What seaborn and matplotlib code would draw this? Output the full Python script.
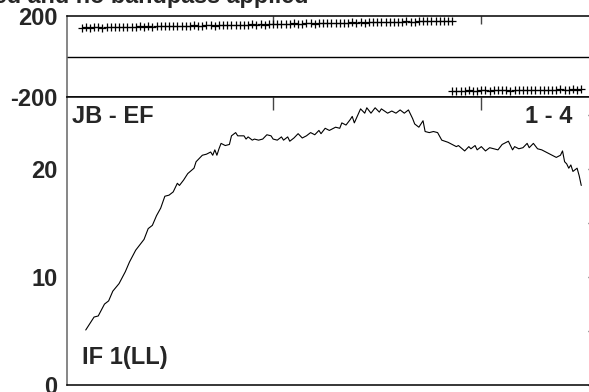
import pandas as pd
import seaborn as sns
import matplotlib.pyplot as plt

# amplitude spectrum (channel, amplitude)
amp_chan = [10, 12, 14, 16, 19, 21, 23, 26, 29, 31, 34, 36, 38, 40, 42, 44, 46, 48, 50, 52,
            54, 55, 57, 59, 62, 63, 66, 68, 70, 71, 72, 73, 74, 75, 77, 79, 80, 82, 83, 86,
            87, 88, 90, 91, 93, 95, 97, 99, 100, 102, 104, 105, 107, 108, 110, 112, 114, 116, 118, 120,
            122, 123, 125, 127, 130, 132, 133, 135, 137, 138, 139, 142, 144, 145, 147, 149, 151, 152, 155, 157,
            159, 161, 163, 165, 167, 168, 170, 172, 173, 175, 177, 179, 181, 184, 186, 188, 189, 192, 194, 195,
            197, 198, 200, 202, 204, 206, 208, 210, 213, 215, 216, 218, 220, 222, 223, 225, 227, 229, 232, 234,
            236, 238, 239, 240, 241, 242, 243, 244, 246, 247, 248]
amp_vals = [5.1, 5.7, 6.3, 6.4, 7.5, 7.8, 8.7, 9.4, 10.5, 11.4, 12.5, 13.0, 13.5, 14.5, 14.8, 15.7, 16.4, 17.5, 17.6, 17.9,
            18.7, 18.5, 19.0, 19.6, 20.1, 20.7, 21.3, 21.4, 21.6, 21.3, 21.8, 21.3, 21.9, 22.4, 22.2, 22.3, 23.1, 23.4, 23.1, 23.1,
            22.8, 23.0, 22.7, 22.8, 22.7, 22.8, 23.2, 23.1, 22.8, 22.7, 23.0, 22.7, 23.0, 22.6, 22.9, 23.3, 22.9, 23.1, 23.4, 23.2,
            23.6, 23.3, 23.8, 23.6, 23.9, 23.8, 24.3, 24.1, 24.6, 24.9, 24.3, 25.6, 25.2, 25.7, 25.2, 25.7, 25.3, 25.6, 25.2, 25.4,
            25.2, 25.5, 25.2, 25.5, 24.7, 24.2, 23.9, 24.5, 23.5, 23.4, 23.5, 23.4, 22.7, 22.5, 22.3, 22.1, 22.2, 21.7, 22.1, 21.9,
            22.2, 21.8, 22.1, 21.7, 22.0, 21.9, 21.8, 22.3, 22.6, 21.8, 22.1, 21.9, 22.0, 22.4, 22.0, 22.4, 21.9, 21.8, 21.5, 21.3,
            21.1, 21.3, 21.7, 20.7, 20.5, 20.1, 20.4, 19.8, 20.1, 19.4, 18.5]

# phase (degrees), wrapped at +/-180
phase_chan_a = list(range(8, 187, 2))
phase_vals_a = [143, 144, 142, 145, 144, 143, 146, 145, 147, 145,
                146, 148, 147, 146, 149, 148, 150, 148, 149, 151,
                150, 149, 152, 151, 150, 153, 152, 154, 152, 153,
                155, 154, 153, 156, 155, 157, 155, 156, 158, 157,
                156, 159, 158, 160, 158, 159, 161, 160, 159, 162,
                161, 163, 161, 162, 164, 163, 162, 165, 164, 166,
                164, 165, 167, 166, 165, 168, 167, 169, 167, 168,
                170, 169, 168, 171, 170, 172, 170, 171, 173, 172,
                171, 174, 173, 175, 173, 174, 176, 175, 174, 176]
phase_chan_b = list(range(186, 249, 2))
phase_vals_b = [-170, -169, -168, -170, -167, -168, -169, -167, -166, -168, -167,
                -165, -167, -166, -168, -165, -166, -164, -166, -165, -163,
                -165, -164, -166, -163, -164, -162, -164, -163, -161, -163, -162]

title = "Data not calibrated and no bandpass applied"
baseline = "JB - EF"
pol_label = "IF 1(LL)"
time_label = "1 - 4"

amp_df = pd.DataFrame({'channel': amp_chan, 'amplitude': amp_vals})
phase_df = pd.DataFrame({'channel': phase_chan_a + phase_chan_b,
                         'phase': phase_vals_a + phase_vals_b})

sns.set_theme(style="white")
plt.rcParams['font.family'] = ['Liberation Sans', 'DejaVu Sans']
plt.rcParams['font.weight'] = 'bold'

W, H = 589, 392
fig = plt.figure(figsize=(W / 100, H / 100), dpi=100)


def box(l, t, r, b):
    return [l / W, 1 - b / H, (r - l) / W, (b - t) / H]


ax_ph = fig.add_axes(box(67, 16, 600, 97))
ax_am = fig.add_axes(box(67, 97, 600, 385))

# phase panel
sns.scatterplot(data=phase_df, x='channel', y='phase', marker='+', s=40,
                color='black', linewidth=0.9, ax=ax_ph, legend=False)
ax_ph.axhline(0, color='black', lw=1)
ax_ph.set_ylim(-200, 200)
ax_ph.set_yticks([-200, 200])
ax_ph.set_yticklabels(['-200', '200'])

# amplitude panel
sns.lineplot(data=amp_df, x='channel', y='amplitude', color='black',
             linewidth=0.8, ax=ax_am)
ax_am.set_ylim(0, 26.7)
ax_am.set_yticks([0, 10, 20])
ax_am.set_yticks([5, 15, 25], minor=True)

for ax, tl in ((ax_ph, 6), (ax_am, 9)):
    ax.set_xlim(1, 257)
    ax.set_xticks([100, 200])
    ax.set_xticklabels([])
    ax.set_xlabel('')
    ax.set_ylabel('')
    ax.tick_params(which='both', direction='in', top=True, right=True,
                   length=tl, width=1, color='#444444', labelsize=17, pad=7)
    for lab in ax.get_yticklabels():
        lab.set_fontweight('bold')
    for side, sp in ax.spines.items():
        sp.set_color('#666666' if side == 'left' else 'black')
        sp.set_linewidth(1.1)

fig.text(308 / W, 1 - 3 / H, title, ha='right', va='baseline',
         fontsize=16.8, fontweight='bold')
fig.text(72 / W, 1 - 123 / H, baseline, ha='left', va='baseline',
         fontsize=17, fontweight='bold')
fig.text(572 / W, 1 - 123 / H, time_label, ha='right', va='baseline',
         fontsize=17, fontweight='bold')
fig.text(82 / W, 1 - 364 / H, pol_label, ha='left', va='baseline',
         fontsize=17, fontweight='bold')

fig.savefig('out.png', dpi=100)
